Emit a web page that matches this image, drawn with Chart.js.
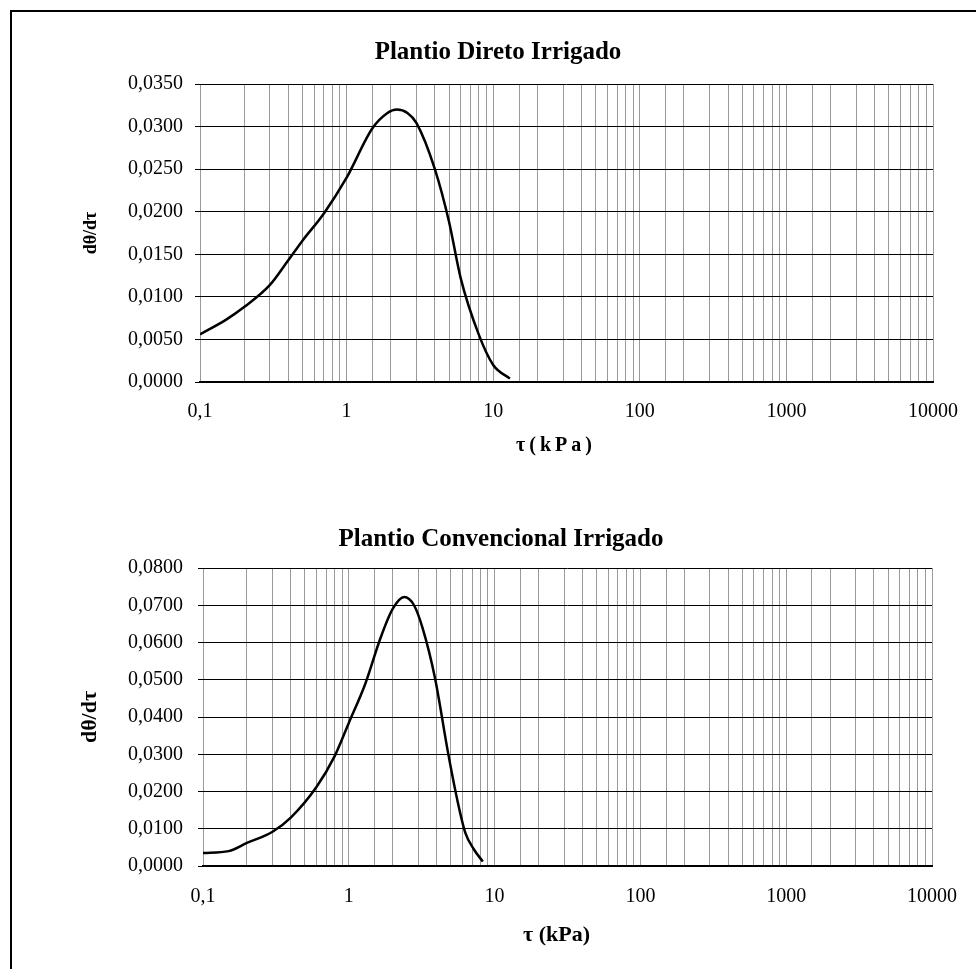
<!DOCTYPE html>
<html>
<head>
<meta charset="utf-8">
<script src="https://cdn.jsdelivr.net/npm/chart.js@4.4.1/dist/chart.umd.min.js"></script>
<style>
  html, body { margin: 0; padding: 0; background: #fff; }
  #page { position: relative; width: 976px; height: 969px; overflow: hidden; }
  #frame { position: absolute; left: 10px; top: 10px; right: -4px; bottom: -4px;
           border-top: 2px solid #000; border-left: 2px solid #000; }
  canvas { position: absolute; left: 0; }
  #chartDireto { top: 0; }
  #chartConv { top: 480px; }
</style>
</head>
<body>
<div id="page">
  <div id="frame"></div>
  <canvas id="chartDireto" width="976" height="480"></canvas>
  <canvas id="chartConv" width="976" height="489"></canvas>
</div>
<script>
// tensao (kPa) x derivada d(theta)/d(tau)
const tauDireto   = [0.1, 0.15, 0.2, 0.3, 0.4, 0.5, 0.7, 1, 1.5, 1.9, 2.2, 2.6, 3, 4, 5, 6, 8, 10, 13];
const thetaDireto = [0.0056, 0.0073, 0.0088, 0.0114, 0.0143, 0.0166, 0.0198, 0.0240, 0.0298, 0.0316,
                     0.0320, 0.0316, 0.0304, 0.0250, 0.0188, 0.0122, 0.0055, 0.0020, 0.0004];

const tauConv   = [0.1, 0.15, 0.2, 0.3, 0.4, 0.6, 0.8, 1, 1.3, 1.65, 2, 2.4, 2.8, 3.2, 3.9, 4.8, 5.6, 6.3, 7.2, 8.3];
const thetaConv = [0.0035, 0.0040, 0.0062, 0.0092, 0.0130, 0.0212, 0.0295, 0.0384, 0.0490, 0.0612,
                   0.0690, 0.0722, 0.0700, 0.0640, 0.0505, 0.0303, 0.0170, 0.0089, 0.0045, 0.0012];

// rotulos do eixo x (so nas decadas)
const xDecades = [0.1, 1, 10, 100, 1000, 10000];
const xTickLabels = ['0,1', '1', '10', '100', '1000', '10000'];

const serif = '"Liberation Serif", "Times New Roman", serif';

function decadeLabel(v) {
  const i = xDecades.findIndex(d => Math.abs(Math.log10(d) - Math.log10(v)) < 1e-6);
  return i >= 0 ? xTickLabels[i] : '';
}

function makeChart(id, cfg) {
  const points = cfg.tau.map((t, i) => ({ x: t, y: cfg.theta[i] }));
  return new Chart(document.getElementById(id), {
    type: 'line',
    data: {
      datasets: [{
        data: points,
        borderColor: '#000',
        borderWidth: 2.5,
        pointRadius: 0,
        fill: false,
        cubicInterpolationMode: 'monotone'
      }]
    },
    options: {
      responsive: false,
      animation: false,
      devicePixelRatio: 1,
      layout: { padding: { left: cfg.padLeft, right: cfg.padRight, top: 0, bottom: 0 } },
      plugins: {
        legend: { display: false },
        tooltip: { enabled: false },
        title: {
          display: true,
          text: cfg.title,
          color: '#000',
          font: { family: serif, size: 25, weight: 'bold' },
          padding: { top: cfg.titleTop, bottom: cfg.titleBottom }
        }
      },
      scales: {
        x: {
          type: 'logarithmic',
          min: 0.1,
          max: 10000,
          grid: { color: '#9a9a9a', lineWidth: 1, drawTicks: false },
          border: { display: true, color: '#000', width: 2 },
          ticks: {
            autoSkip: false,
            maxRotation: 0,
            padding: cfg.xTickPad,
            color: '#000',
            font: { family: serif, size: 20 },
            callback: v => decadeLabel(v)
          },
          title: {
            display: true,
            text: cfg.xTitle,
            color: '#000',
            font: { family: serif, size: cfg.xTitleSize, weight: 'bold' },
            padding: { top: 0, bottom: cfg.xTitleBottom }
          },
          afterFit: s => { s.height = cfg.xHeight; }
        },
        y: {
          min: 0,
          max: cfg.yMax,
          grid: { color: '#000', lineWidth: 1, drawTicks: true, tickLength: 5 },
          border: { display: false },
          ticks: {
            stepSize: cfg.yStep,
            padding: cfg.yTickPad,
            color: '#000',
            font: { family: serif, size: 20 },
            callback: v => v.toFixed(4).replace('.', ',')
          },
          title: {
            display: true,
            text: 'dθ/dτ',
            color: '#000',
            font: { family: serif, size: cfg.yTitleSize, weight: 'bold' },
            padding: { top: cfg.yTitleTop, bottom: 0 }
          },
          afterFit: s => { s.width = cfg.yWidth; }
        }
      }
    }
  });
}

makeChart('chartDireto', {
  tau: tauDireto, theta: thetaDireto,
  title: 'Plantio Direto Irrigado',
  xTitle: 'τ\u2009(\u2009k\u2009P\u2009a\u2009)\u00a0\u00a0\u00a0\u00a0\u00a0',
  xTitleSize: 20, xTitleBottom: 22, xTickPad: 18, xHeight: 98,
  yMax: 0.035, yStep: 0.005, yTickPad: 12, yWidth: 142,
  yTitleSize: 18, yTitleTop: 23,
  padLeft: 58, padRight: 38, titleTop: 38, titleBottom: 16
});

makeChart('chartConv', {
  tau: tauConv, theta: thetaConv,
  title: 'Plantio Convencional Irrigado',
  xTitle: 'τ (kPa)\u00a0\u00a0\u00a0\u00a0',
  xTitleSize: 22, xTitleBottom: 20, xTickPad: 19, xHeight: 103,
  yMax: 0.08, yStep: 0.01, yTickPad: 15, yWidth: 143,
  yTitleSize: 22, yTitleTop: 17,
  padLeft: 60, padRight: 34, titleTop: 45, titleBottom: 13
});
</script>
</body>
</html>
